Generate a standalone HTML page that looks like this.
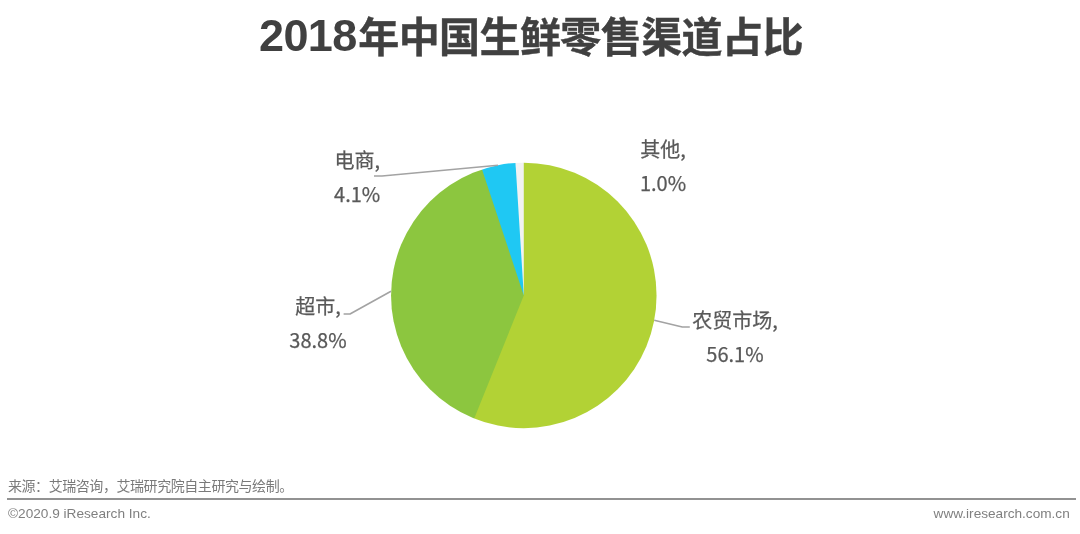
<!DOCTYPE html>
<html lang="zh-CN">
<head>
<meta charset="utf-8">
<title>2018年中国生鲜零售渠道占比</title>
<style>
html,body{margin:0;padding:0;background:#fff;}
body{width:1080px;height:534px;position:relative;overflow:hidden;font-family:"Liberation Sans","Noto Sans CJK SC",sans-serif;}
.abs{position:absolute;white-space:nowrap;}
#title .num{font-family:"Liberation Sans",sans-serif;font-size:45px;letter-spacing:-0.6px;margin-right:1.5px;-webkit-text-stroke:0;position:relative;top:-1px;}
#title{left:259px;top:3.5px;font-size:41px;line-height:60px;font-weight:bold;color:#404040;-webkit-text-stroke:0.4px #404040;letter-spacing:-0.58px;font-family:"Noto Sans CJK SC","Liberation Sans",sans-serif;}
.lbl{font-size:20px;line-height:34px;color:#595959;text-align:center;font-family:"Noto Sans CJK SC","Liberation Sans",sans-serif;font-weight:400;-webkit-text-stroke:0.25px #595959;transform:translateX(-50%);}
#src{left:8px;top:474.5px;font-size:14px;letter-spacing:-0.44px;line-height:20px;color:#7a7a7a;font-family:"Noto Sans CJK SC",sans-serif;font-weight:400;}
#rule{left:7px;top:498px;width:1069px;height:2px;background:#929292;}
#copy{left:8px;top:505.7px;font-size:13.65px;line-height:16px;color:#808080;}
#url{right:10.3px;top:505.7px;font-size:13.62px;line-height:16px;color:#808080;}
svg{position:absolute;left:0;top:0;}
</style>
</head>
<body>
<svg width="1080" height="534" viewBox="0 0 1080 534">
<defs><mask id="pm" maskUnits="userSpaceOnUse" x="380" y="150" width="290" height="290"><circle cx="523.8" cy="295.4" r="132.75" fill="#fff"/></mask></defs>
<g mask="url(#pm)">
<rect x="380" y="150" width="290" height="290" fill="#8CC63F"/>
<polygon points="523.80,295.40 460.80,105.58 498.11,97.06 536.36,95.79" fill="#1FC8F3"/>
<polygon points="523.80,295.40 511.24,95.79 536.36,95.79" fill="#F2F2F2"/>
<polygon points="523.80,295.40 523.80,95.40 573.62,101.71 620.31,120.23 660.91,149.79 692.86,188.54 714.15,234.02 723.44,283.38 720.14,333.49 704.46,381.21 677.39,423.51 640.63,457.73 596.51,481.72 547.80,493.96 497.58,493.67 449.01,480.89" fill="#B2D235"/>
</g>
<g fill="none" stroke="#a3a3a3" stroke-width="1.6" stroke-linejoin="round">
<polyline points="374,176 382,176 498,165.3"/>
<polyline points="343.6,314 350,314 391,291.2"/>
<polyline points="654.2,320.2 682.3,327 689.8,327"/>
</g>
</svg>
<div id="title" class="abs"><span class="num">2018</span>年中国生鲜零售渠道占比</div>
<div class="abs lbl" style="left:357.2px;top:142.5px;">电商,<br>4.1%</div>
<div class="abs lbl" style="left:318px;top:288.5px;">超市,<br>38.8%</div>
<div class="abs lbl" style="left:735px;top:302.7px;">农贸市场,<br>56.1%</div>
<div class="abs lbl" style="left:663px;top:131.5px;">其他,<br>1.0%</div>
<div id="src" class="abs">来源：艾瑞咨询，艾瑞研究院自主研究与绘制。</div>
<div id="rule" class="abs"></div>
<div id="copy" class="abs">©2020.9 iResearch Inc.</div>
<div id="url" class="abs">www.iresearch.com.cn</div>
</body>
</html>
